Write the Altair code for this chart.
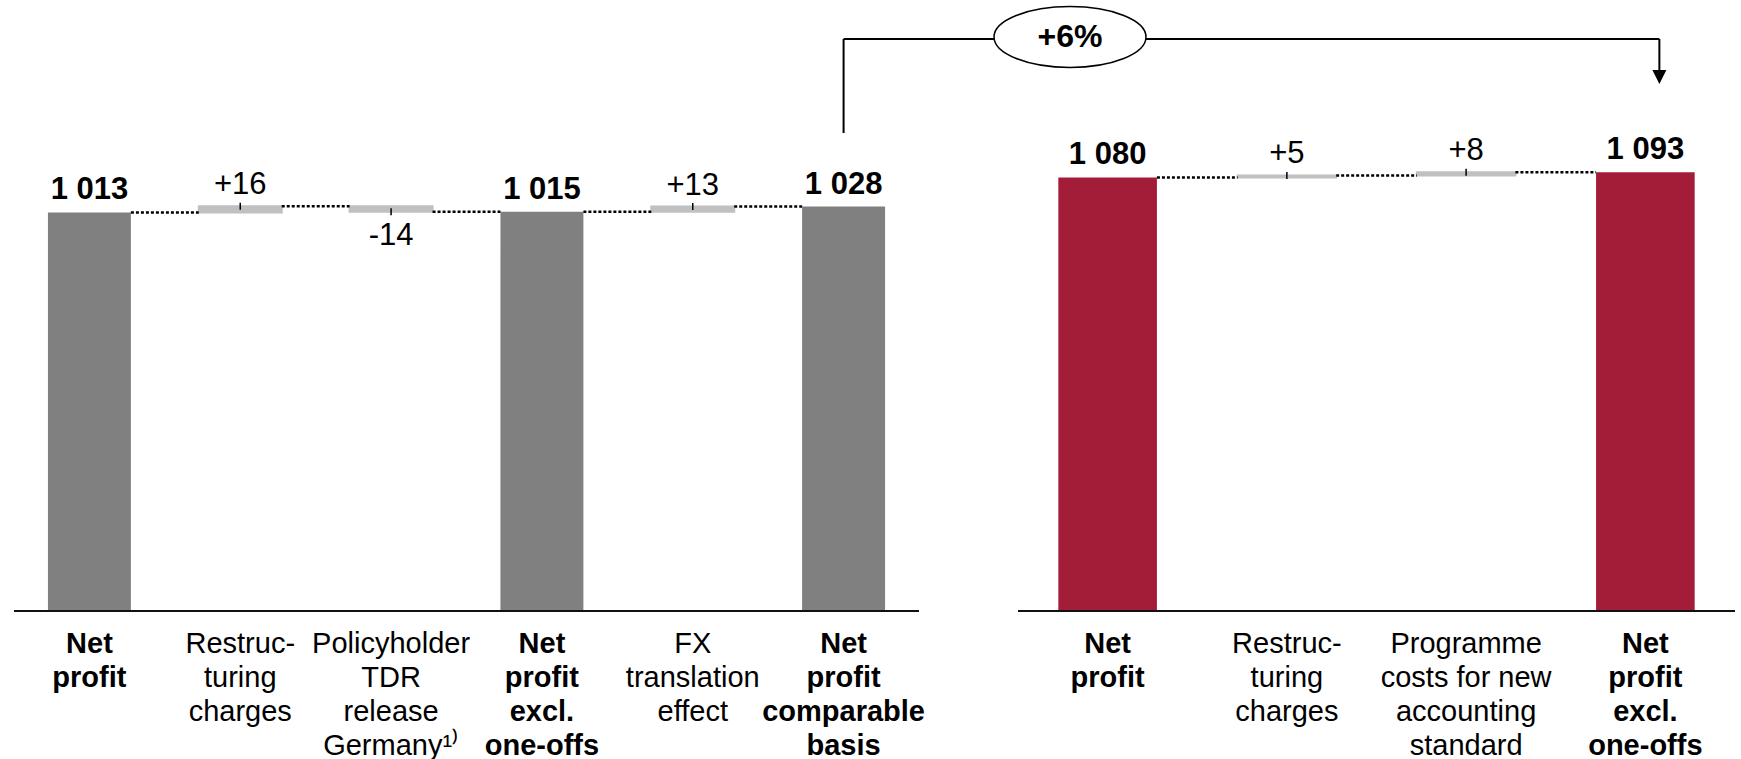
import altair as alt
import pandas as pd

# ---------------- data ----------------
left_categories = ["Net profit", "Restructuring charges", "Policyholder TDR release Germany",
                   "Net profit excl. one-offs", "FX translation effect", "Net profit comparable basis"]
left_labels = ["Net\nprofit", "Restruc-\nturing\ncharges", "Policyholder\nTDR\nrelease\nGermany\u00b9\u207e",
               "Net\nprofit\nexcl.\none-offs", "FX\ntranslation\neffect", "Net\nprofit\ncomparable\nbasis"]
left_values = [1013, 16, -14, 1015, 13, 1028]
left_is_total = [True, False, False, True, False, True]

right_categories = ["Net profit", "Restructuring charges",
                    "Programme costs for new accounting standard", "Net profit excl. one-offs"]
right_labels = ["Net\nprofit", "Restruc-\nturing\ncharges",
                "Programme\ncosts for new\naccounting\nstandard", "Net\nprofit\nexcl.\none-offs"]
right_values = [1080, 5, 8, 1093]
right_is_total = [True, False, False, True]

growth_label = "+6%"

# ---------------- style ----------------
FONT = "Liberation Sans"
GREY_TOTAL = "#808080"
RED_TOTAL = "#A31C38"
DELTA = "#C0C0C0"
H = 611
W_L, W_R = 905, 717
SPACING = 99
P_IN, P_OUT = 0.45, 0.225


def frames(cats, labels, values, totals):
    rows, conn = [], []
    running = 0
    for c, lab, v, t in zip(cats, labels, values, totals):
        if t:
            start, end = 0, v
            txt = f"{v:,}".replace(",", " ")
        else:
            start, end = running, running + v
            txt = f"{v:+d}"
        running = end
        rows.append(dict(cat=c, label=lab, start=start, end=end, total=t,
                         neg=(not t and v < 0), txt=txt))
    for i in range(len(cats) - 1):
        conn.append(dict(src=cats[i], dst=cats[i + 1], level=rows[i]["end"]))
    return pd.DataFrame(rows), pd.DataFrame(conn)


def panel(cats, labels, values, totals, color, width, ymax, extra=()):
    df, cdf = frames(cats, labels, values, totals)
    xs = alt.Scale(domain=cats, paddingInner=P_IN, paddingOuter=P_OUT)
    ys = alt.Scale(domain=[0, ymax], nice=False, zero=True)
    X = lambda f, **k: alt.X(f"{f}:N", scale=xs, axis=None, **k)
    Y = lambda f: alt.Y(f"{f}:Q", scale=ys, axis=None)
    base = alt.Chart(df)

    tot_bars = base.mark_bar(color=color).encode(x=X("cat"), y=Y("end"), y2="start").transform_filter("datum.total")
    d_bars = base.mark_bar(color=DELTA, stroke=DELTA, strokeWidth=2).encode(
        x=X("cat"), y=Y("end"), y2="start").transform_filter("!datum.total")
    conns = alt.Chart(cdf).mark_rule(color="#000000", strokeWidth=2.5, strokeDash=[3, 2]).encode(
        x=X("src", bandPosition=1), x2=alt.X2("dst:N", bandPosition=0), y=Y("level"))
    ticks = base.mark_rule(color="#000000", strokeWidth=1.5, yOffset=-3.5, y2Offset=3.5).encode(
        x=X("cat"), y=Y("end"), y2="end").transform_filter("!datum.total")
    lab_tot = base.mark_text(font=FONT, fontSize=31, fontWeight="bold", dy=-13, baseline="alphabetic",
                             color="#000000").encode(x=X("cat"), y=Y("end"), text="txt").transform_filter("datum.total")
    lab_pos = base.mark_text(font=FONT, fontSize=31, dy=-12, baseline="alphabetic",
                             color="#000000").encode(x=X("cat"), y=Y("end"), text="txt").transform_filter(
        "!datum.total && !datum.neg")
    lab_neg = base.mark_text(font=FONT, fontSize=31, dy=9, baseline="top",
                             color="#000000").encode(x=X("cat"), y=Y("end"), text="txt").transform_filter("datum.neg")
    cat_b = base.mark_text(font=FONT, fontSize=29, fontWeight="bold", baseline="top", lineHeight=34,
                           lineBreak="\n", color="#000000").encode(
        x=X("cat"), y=alt.value(H + 19), text="label").transform_filter("datum.total")
    cat_n = base.mark_text(font=FONT, fontSize=29, baseline="top", lineHeight=34,
                           lineBreak="\n", color="#000000").encode(
        x=X("cat"), y=alt.value(H + 19), text="label").transform_filter("!datum.total")
    one = alt.Chart(pd.DataFrame({"a": [0]}))
    axis_line = one.mark_rule(color="#111111", strokeWidth=2).encode(
        x=alt.value(0), x2=alt.value(width), y=alt.value(H))
    layers = [tot_bars, d_bars, conns, ticks, lab_tot, lab_pos, lab_neg, cat_b, cat_n, axis_line]
    for f in extra:
        layers.append(f(one, X))
    return alt.layer(*layers).properties(width=width, height=H)


# ---------------- annotation (bracket drawn in left panel coordinates) ----------------
step_r = W_R / len(right_categories)
arrow_x = W_L + SPACING + step_r * 3.5 + 14
bracket_y = 39
ell_x, ell_y = 1056, 37
RY = 0.40
K = 0.5523
ELLIPSE_PATH = (f"M -1 0 C -1 {-RY*K:.4f} {-K} {-RY} 0 {-RY} "
                f"C {K} {-RY} 1 {-RY*K:.4f} 1 0 "
                f"C 1 {RY*K:.4f} {K} {RY} 0 {RY} "
                f"C {-K} {RY} -1 {RY*K:.4f} -1 0 Z")


def vert(one, X):
    d = pd.DataFrame({"cat": [left_categories[-1]]})
    return alt.Chart(d).mark_rule(color="#000000", strokeWidth=2).encode(
        x=X("cat"), y=alt.value(133), y2=alt.value(bracket_y))


def horiz(one, X):
    d = pd.DataFrame({"cat": [left_categories[-1]]})
    return alt.Chart(d).mark_rule(color="#000000", strokeWidth=2).encode(
        x=X("cat"), x2=alt.value(arrow_x), y=alt.value(bracket_y))


def arrow_line(one, X):
    return one.mark_rule(color="#000000", strokeWidth=2).encode(
        x=alt.value(arrow_x), y=alt.value(bracket_y), y2=alt.value(73))


def arrow_head(one, X):
    return one.mark_point(shape="M -1 -1 L 1 -1 L 0 1 Z", filled=True, color="#000000", size=196,
                          opacity=1).encode(x=alt.value(arrow_x), y=alt.value(77))


def ellipse(one, X):
    return one.mark_point(shape=ELLIPSE_PATH, filled=True,
                          fill="#FFFFFF", stroke="#000000", strokeWidth=1.5, size=152 * 152,
                          opacity=1, fillOpacity=1).encode(x=alt.value(ell_x), y=alt.value(ell_y))


def growth(one, X):
    return one.mark_text(font=FONT, fontSize=32, fontWeight="bold", color="#000000",
                         baseline="middle").encode(x=alt.value(ell_x), y=alt.value(ell_y),
                                                   text=alt.value(growth_label))


left = panel(left_categories, left_labels, left_values, left_is_total, GREY_TOTAL, W_L, 1553,
             extra=(vert, horiz, arrow_line, arrow_head, ellipse, growth))
right = panel(right_categories, right_labels, right_values, right_is_total, RED_TOTAL, W_R, 1522)

chart = alt.hconcat(left, right, spacing=SPACING).properties(
    bounds="flush",
    padding={"left": 13, "top": 0, "right": 0, "bottom": 0},
    background="#FFFFFF",
).configure_view(stroke=None)

chart.save("out.html", embed_options={"renderer": "svg", "actions": False})
